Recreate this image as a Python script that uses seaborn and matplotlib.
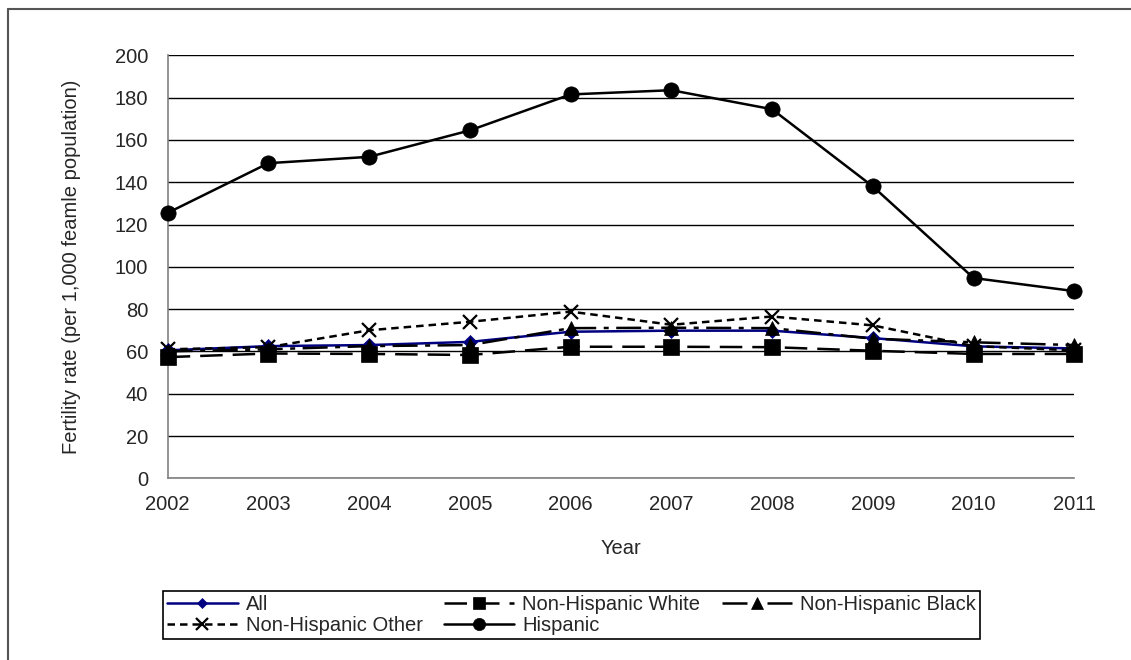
import numpy as np
import pandas as pd
import seaborn as sns
import matplotlib.pyplot as plt
from matplotlib.lines import Line2D

years = [2002, 2003, 2004, 2005, 2006, 2007, 2008, 2009, 2010, 2011]
all_rate = [60.5, 62.5, 63.0, 64.5, 69.3, 69.8, 69.8, 66.3, 62.4, 61.4]
nh_white = [57.3, 59.0, 58.8, 58.3, 62.2, 62.2, 62.0, 60.3, 58.8, 58.8]
nh_black = [60.0, 61.0, 62.5, 63.0, 71.0, 71.2, 71.0, 66.0, 64.3, 63.0]
nh_other = [61.0, 62.0, 70.0, 74.0, 78.8, 72.6, 76.5, 72.3, 62.5, 60.5]
hispanic = [125.5, 149.0, 152.0, 164.5, 181.5, 183.5, 174.5, 138.0, 94.7, 88.5]

labels = ["All", "Non-Hispanic White", "Non-Hispanic Black", "Non-Hispanic Other", "Hispanic"]

df = pd.DataFrame({"Year": years * 5,
                   "Rate": all_rate + nh_white + nh_black + nh_other + hispanic,
                   "Group": np.repeat(labels, len(years))})

sns.set_style("white")
plt.rcParams['font.family'] = ['Liberation Sans', 'DejaVu Sans']
fs = 14.5

# per-series look: colour, marker, marker size, dash pattern
looks = {
    "All": ("#000080", "D", 7, "-"),
    "Non-Hispanic White": ("black", "s", 11, (0, (9, 4))),
    "Non-Hispanic Black": ("black", "^", 10, (0, (10, 3, 2, 3))),
    "Non-Hispanic Other": ("black", "x", 10, (0, (3, 2))),
    "Hispanic": ("black", "o", 11, "-"),
}

fig, ax = plt.subplots(figsize=(11.31, 6.6), dpi=100)
fig.subplots_adjust(left=167.7 / 1131, right=1074.3 / 1131, top=1 - 55.3 / 660, bottom=1 - 478.3 / 660)

handles = {}
for g in labels:
    col, mk, ms, ls = looks[g]
    sub = df[df["Group"] == g]
    sns.lineplot(data=sub, x="Year", y="Rate", ax=ax, color=col, marker=mk, markersize=ms,
                 linestyle=ls, linewidth=1.8, markeredgecolor=col, markeredgewidth=1.6 if mk == "x" else 0.5,
                 clip_on=False, zorder=3, legend=False)
    handles[g] = Line2D([], [], color=col, marker=mk, markersize=ms * 0.8, linestyle=ls, linewidth=1.8,
                        markeredgecolor=col, markeredgewidth=1.6 if mk == "x" else 0.5)

ax.set_xlim(2002, 2011)
ax.set_ylim(0, 200)
ax.set_xticks(years)
ax.set_yticks(range(0, 201, 20))
ax.yaxis.grid(True, color="black", linewidth=1)
ax.xaxis.grid(False)
ax.set_axisbelow(True)
for s in ["top", "right"]:
    ax.spines[s].set_visible(False)
for s in ["left", "bottom"]:
    ax.spines[s].set_color("#808080")
    ax.spines[s].set_linewidth(1.2)
ax.tick_params(axis="both", direction="out", length=6, width=1.2, color="#808080", labelsize=fs)
ax.tick_params(axis="y", pad=8)
ax.tick_params(axis="x", pad=6)

ax.set_xlabel("Year", fontsize=fs, labelpad=18)
ax.set_ylabel("Fertility rate (per 1,000 feamle population)", fontsize=fs, labelpad=24)

order = ["All", "Non-Hispanic Other", "Non-Hispanic White", "Hispanic", "Non-Hispanic Black"]
leg = fig.legend([handles[k] for k in order], order, ncol=3, mode="expand",
                 bbox_to_anchor=(163 / 1131, 21 / 660, 817 / 1131, 51 / 660), loc="lower left",
                 fontsize=fs, frameon=True, fancybox=False, framealpha=1, edgecolor="black",
                 handlelength=3.5, handletextpad=0.4, borderpad=0.2, labelspacing=0.1, borderaxespad=0)
leg.get_frame().set_linewidth(1.2)

# outer chart frame
fig.add_artist(Line2D([8 / 1131, 8 / 1131], [0, 1 - 9 / 660], transform=fig.transFigure, color="#555555", lw=1.5))
fig.add_artist(Line2D([8 / 1131, 1], [1 - 9 / 660, 1 - 9 / 660], transform=fig.transFigure, color="#555555", lw=1.5))

fig.savefig("out.png", dpi=100)
